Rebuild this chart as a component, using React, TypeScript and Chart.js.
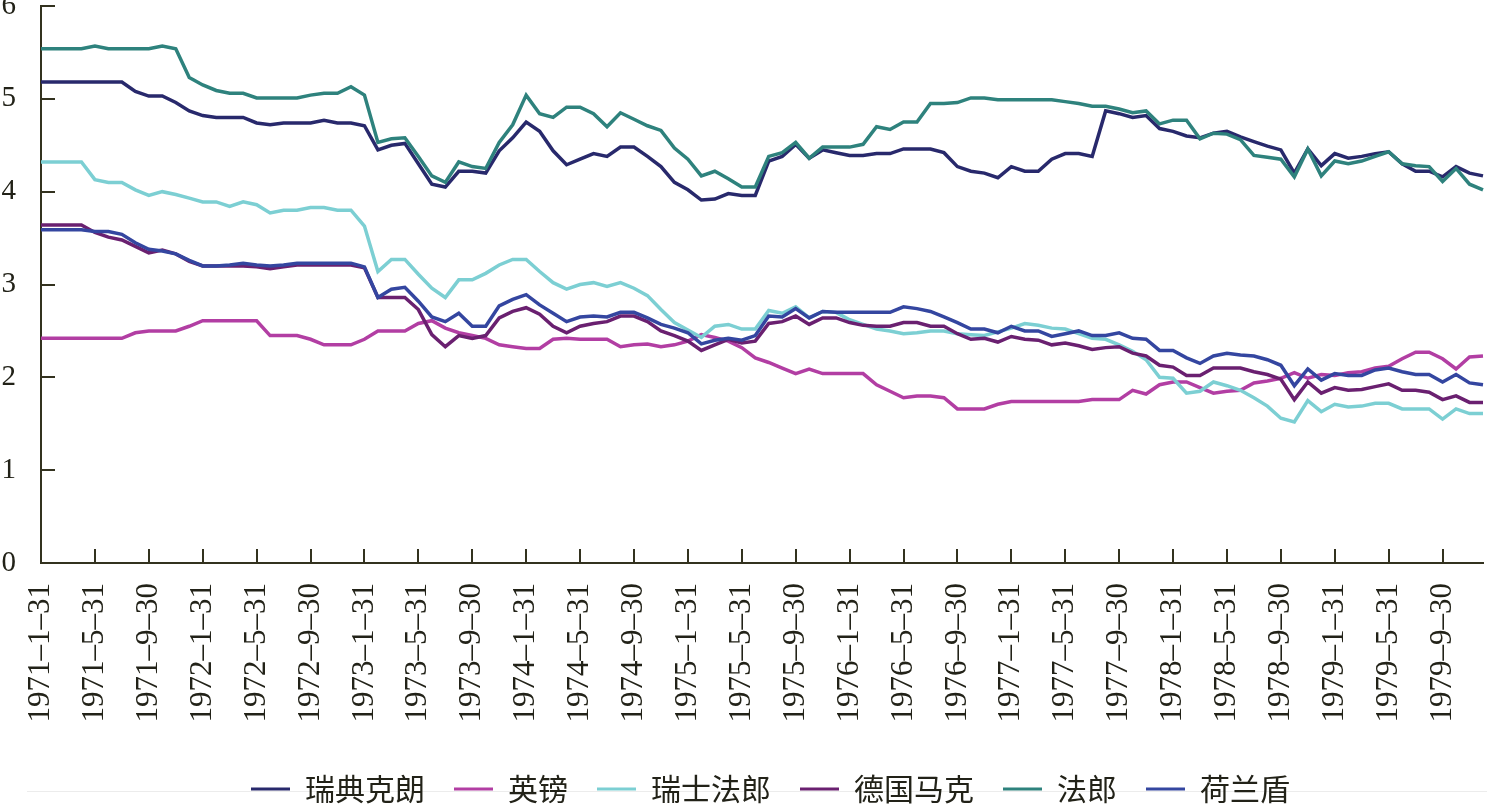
import React, { useEffect, useRef } from "react";
import { Chart, registerables } from "chart.js";

Chart.register(...registerables);

// ---- categories (month-end dates) ----
const years = [1971, 1972, 1973, 1974, 1975, 1976, 1977, 1978, 1979];
const monthEndDays = [31, 28, 31, 30, 31, 30, 31, 31, 30, 31, 30, 31];
const categories: string[] = [];
for (const y of years) {
  for (let m = 1; m <= 12; m++) {
    const d = m === 2 && y % 4 === 0 ? 29 : monthEndDays[m - 1];
    categories.push(`${y}–${m}–${d}`);
  }
}
const tickEvery = 4;
const yTicks = [0, 1, 2, 3, 4, 5, 6];

// ---- series ----
const seriesNames = ["瑞典克朗", "英镑", "瑞士法郎", "德国马克", "法郎", "荷兰盾"];
const seriesColors = ["#28296c", "#b23ea3", "#7ccfd3", "#6a2070", "#2e827d", "#3446a0"];

const sek = [
  5.18, 5.18, 5.18, 5.18, 5.18, 5.18, 5.18, 5.08, 5.03, 5.03,
  4.96, 4.87, 4.82, 4.80, 4.80, 4.80, 4.74, 4.72, 4.74, 4.74,
  4.74, 4.77, 4.74, 4.74, 4.71, 4.45, 4.50, 4.52, 4.30, 4.08,
  4.05, 4.22, 4.22, 4.20, 4.44, 4.58, 4.75, 4.65, 4.44, 4.29,
  4.35, 4.41, 4.38, 4.48, 4.48, 4.38, 4.27, 4.10, 4.02, 3.91,
  3.92, 3.98, 3.96, 3.96, 4.33, 4.38, 4.51, 4.36, 4.45, 4.42,
  4.39, 4.39, 4.41, 4.41, 4.46, 4.46, 4.46, 4.42, 4.27, 4.22,
  4.20, 4.15, 4.27, 4.22, 4.22, 4.35, 4.41, 4.41, 4.38, 4.87,
  4.84, 4.80, 4.82, 4.68, 4.65, 4.60, 4.58, 4.63, 4.65, 4.59,
  4.54, 4.49, 4.45, 4.20, 4.46, 4.28, 4.41, 4.36, 4.38, 4.41,
  4.43, 4.30, 4.22, 4.22, 4.16, 4.27, 4.20, 4.17,
];
const gbp = [
  2.42, 2.42, 2.42, 2.42, 2.42, 2.42, 2.42, 2.48, 2.50, 2.50,
  2.50, 2.55, 2.61, 2.61, 2.61, 2.61, 2.61, 2.45, 2.45, 2.45,
  2.41, 2.35, 2.35, 2.35, 2.41, 2.50, 2.50, 2.50, 2.58, 2.61,
  2.53, 2.48, 2.45, 2.42, 2.35, 2.33, 2.31, 2.31, 2.41, 2.42,
  2.41, 2.41, 2.41, 2.33, 2.35, 2.36, 2.33, 2.35, 2.39, 2.46,
  2.43, 2.39, 2.32, 2.21, 2.16, 2.10, 2.04, 2.09, 2.04, 2.04,
  2.04, 2.04, 1.92, 1.85, 1.78, 1.80, 1.80, 1.78, 1.66, 1.66,
  1.66, 1.71, 1.74, 1.74, 1.74, 1.74, 1.74, 1.74, 1.76, 1.76,
  1.76, 1.86, 1.82, 1.92, 1.95, 1.95, 1.89, 1.83, 1.85, 1.86,
  1.94, 1.96, 1.99, 2.05, 1.99, 2.03, 2.02, 2.05, 2.06, 2.10,
  2.12, 2.20, 2.27, 2.27, 2.20, 2.09, 2.22, 2.23,
];
const chf = [
  4.32, 4.32, 4.32, 4.32, 4.13, 4.10, 4.10, 4.02, 3.96, 4.00,
  3.97, 3.93, 3.89, 3.89, 3.84, 3.89, 3.86, 3.77, 3.80, 3.80,
  3.83, 3.83, 3.80, 3.80, 3.63, 3.14, 3.27, 3.27, 3.11, 2.96,
  2.86, 3.05, 3.05, 3.12, 3.21, 3.27, 3.27, 3.14, 3.02, 2.95,
  3.00, 3.02, 2.98, 3.02, 2.96, 2.88, 2.73, 2.59, 2.51, 2.43,
  2.55, 2.57, 2.52, 2.52, 2.72, 2.69, 2.76, 2.64, 2.71, 2.70,
  2.62, 2.57, 2.52, 2.50, 2.47, 2.48, 2.50, 2.50, 2.47, 2.46,
  2.45, 2.49, 2.53, 2.58, 2.56, 2.53, 2.52, 2.47, 2.42, 2.41,
  2.35, 2.28, 2.19, 2.00, 1.99, 1.83, 1.85, 1.95, 1.91, 1.86,
  1.78, 1.69, 1.56, 1.52, 1.75, 1.63, 1.71, 1.68, 1.69, 1.72,
  1.72, 1.66, 1.66, 1.66, 1.55, 1.66, 1.61, 1.61,
];
const dem = [
  3.64, 3.64, 3.64, 3.64, 3.56, 3.51, 3.48, 3.41, 3.34, 3.37,
  3.33, 3.25, 3.20, 3.20, 3.20, 3.20, 3.19, 3.17, 3.19, 3.21,
  3.21, 3.21, 3.21, 3.21, 3.18, 2.86, 2.86, 2.86, 2.73, 2.46,
  2.33, 2.45, 2.42, 2.45, 2.64, 2.71, 2.75, 2.68, 2.55, 2.48,
  2.55, 2.58, 2.60, 2.66, 2.66, 2.60, 2.50, 2.45, 2.39, 2.29,
  2.35, 2.41, 2.37, 2.39, 2.58, 2.60, 2.66, 2.57, 2.64, 2.64,
  2.59, 2.56, 2.55, 2.55, 2.59, 2.59, 2.55, 2.55, 2.47, 2.41,
  2.42, 2.38, 2.44, 2.41, 2.40, 2.35, 2.37, 2.34, 2.30, 2.32,
  2.33, 2.26, 2.23, 2.13, 2.11, 2.02, 2.02, 2.10, 2.10, 2.10,
  2.06, 2.03, 1.98, 1.76, 1.95, 1.83, 1.89, 1.86, 1.87, 1.90,
  1.93, 1.86, 1.86, 1.84, 1.76, 1.80, 1.73, 1.73,
];
const frf = [
  5.54, 5.54, 5.54, 5.54, 5.57, 5.54, 5.54, 5.54, 5.54, 5.57,
  5.54, 5.23, 5.15, 5.09, 5.06, 5.06, 5.01, 5.01, 5.01, 5.01,
  5.04, 5.06, 5.06, 5.13, 5.04, 4.53, 4.57, 4.58, 4.38, 4.17,
  4.10, 4.32, 4.27, 4.25, 4.53, 4.72, 5.04, 4.84, 4.80, 4.91,
  4.91, 4.84, 4.70, 4.85, 4.78, 4.71, 4.66, 4.47, 4.35, 4.17,
  4.22, 4.14, 4.05, 4.05, 4.38, 4.42, 4.53, 4.36, 4.48, 4.48,
  4.48, 4.51, 4.70, 4.67, 4.75, 4.75, 4.95, 4.95, 4.96, 5.01,
  5.01, 4.99, 4.99, 4.99, 4.99, 4.99, 4.97, 4.95, 4.92, 4.92,
  4.89, 4.85, 4.87, 4.73, 4.77, 4.77, 4.57, 4.63, 4.62, 4.56,
  4.39, 4.37, 4.35, 4.16, 4.46, 4.17, 4.33, 4.30, 4.33, 4.38,
  4.43, 4.30, 4.28, 4.27, 4.11, 4.25, 4.08, 4.02,
];
const nlg = [
  3.59, 3.59, 3.59, 3.59, 3.57, 3.57, 3.54, 3.45, 3.38, 3.36,
  3.33, 3.26, 3.20, 3.20, 3.21, 3.23, 3.21, 3.20, 3.21, 3.23,
  3.23, 3.23, 3.23, 3.23, 3.19, 2.86, 2.95, 2.97, 2.82, 2.65,
  2.60, 2.69, 2.55, 2.55, 2.77, 2.84, 2.89, 2.78, 2.69, 2.60,
  2.65, 2.66, 2.65, 2.70, 2.70, 2.64, 2.57, 2.53, 2.48, 2.36,
  2.40, 2.42, 2.40, 2.45, 2.66, 2.65, 2.74, 2.64, 2.71, 2.70,
  2.70, 2.70, 2.70, 2.70, 2.76, 2.74, 2.71, 2.65, 2.59, 2.52,
  2.52, 2.48, 2.55, 2.50, 2.50, 2.44, 2.47, 2.50, 2.45, 2.45,
  2.48, 2.42, 2.41, 2.29, 2.29, 2.21, 2.15, 2.23, 2.26, 2.24,
  2.23, 2.19, 2.13, 1.91, 2.09, 1.97, 2.04, 2.02, 2.02, 2.08,
  2.10, 2.06, 2.03, 2.03, 1.95, 2.03, 1.94, 1.92,
];
const seriesValues = [sek, gbp, chf, dem, frf, nlg];

const AXIS_COLOR = "#33321f";
const TEXT_COLOR = "#222218";

const innerTicksPlugin = {
  id: "innerTicks",
  beforeDraw(chart: any) {
    const { ctx } = chart;
    ctx.save();
    ctx.strokeStyle = "#ececec";
    ctx.lineWidth = 1;
    ctx.beginPath();
    ctx.moveTo(27, 791.5);
    ctx.lineTo(1487, 791.5);
    ctx.stroke();
    ctx.restore();
  },
  afterLayout(chart: any) {
    const lg = chart.legend;
    if (lg) {
      lg.left += 29;
      lg.right += 29;
    }
  },
  afterDraw(chart: any) {
    const { ctx, chartArea } = chart;
    const xs = chart.scales.x;
    const ys = chart.scales.y;
    ctx.save();
    ctx.strokeStyle = AXIS_COLOR;
    ctx.lineWidth = 2;
    ctx.beginPath();
    for (let i = 0; i < categories.length; i += tickEvery) {
      const px = Math.round(xs.getPixelForValue(i));
      ctx.moveTo(px, chartArea.bottom);
      ctx.lineTo(px, chartArea.bottom - 14);
    }
    for (const v of yTicks) {
      const py = Math.round(ys.getPixelForValue(v));
      ctx.moveTo(chartArea.left, py);
      ctx.lineTo(chartArea.left + 14, py);
    }
    ctx.stroke();
    ctx.restore();
  },
};

export default function App() {
  const ref = useRef<HTMLCanvasElement | null>(null);

  useEffect(() => {
    if (!ref.current) return;
    const chart = new Chart(ref.current, {
      type: "line",
      data: {
        labels: categories,
        datasets: seriesNames.map((name, i) => ({
          label: name,
          data: seriesValues[i],
          borderColor: seriesColors[i],
          backgroundColor: seriesColors[i],
          borderWidth: 3.5,
          pointRadius: 0,
          pointHoverRadius: 0,
          tension: 0,
          fill: false,
          order: seriesNames.length - i,
        })),
      },
      options: {
        responsive: false,
        animation: false,
        events: [],
        layout: { padding: { top: 6, right: 4, left: 0, bottom: 0 } },
        plugins: {
          tooltip: { enabled: false },
          legend: {
            position: "bottom",
            align: "center",
            labels: {
              boxWidth: 39,
              boxHeight: 3,
              padding: 29,
              color: TEXT_COLOR,
              font: { family: '"Noto Sans CJK SC", sans-serif', size: 30 },
              generateLabels: (c: any) =>
                c.data.datasets.map((ds: any, i: number) => ({
                  text: ds.label,
                  fillStyle: ds.borderColor,
                  strokeStyle: ds.borderColor,
                  lineWidth: 0,
                  hidden: false,
                  datasetIndex: i,
                  fontColor: TEXT_COLOR,
                })),
            },
          },
        },
        scales: {
          x: {
            type: "category",
            offset: false,
            grid: { display: false, drawTicks: false },
            border: { display: true, color: AXIS_COLOR, width: 2 },
            ticks: {
              autoSkip: false,
              maxRotation: 90,
              minRotation: 90,
              padding: 20,
              color: TEXT_COLOR,
              font: { family: '"Liberation Serif", serif', size: 31 },
              callback: (_v: any, index: number) =>
                index % tickEvery === 0 ? categories[index] : null,
            },
            afterFit: (s: any) => {
              s.height = 182;
              s.paddingLeft = 0;
              s.paddingRight = 0;
            },
          },
          y: {
            min: 0,
            max: 6,
            grid: { display: false, drawTicks: false },
            border: { display: true, color: AXIS_COLOR, width: 2 },
            ticks: {
              stepSize: 1,
              padding: 25,
              color: TEXT_COLOR,
              font: { family: '"Liberation Serif", serif', size: 29 },
            },
            afterFit: (s: any) => {
              s.width = 41;
              s.paddingTop = 0;
              s.paddingBottom = 0;
            },
          },
        },
      },
      plugins: [innerTicksPlugin],
    });
    return () => chart.destroy();
  }, []);

  return (
    <div
      style={{
        position: "fixed",
        left: 0,
        top: 0,
        width: 1487,
        height: 804,
        overflow: "hidden",
        background: "#ffffff",
      }}
    >
      <canvas ref={ref} width={1487} height={814} style={{ display: "block" }} />
    </div>
  );
}
